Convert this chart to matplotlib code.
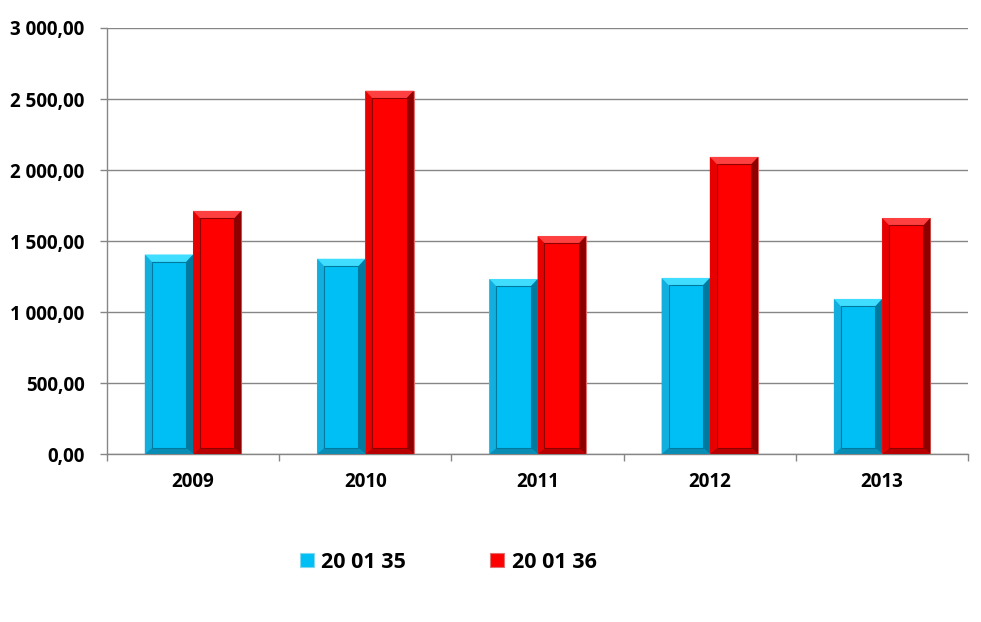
import numpy as np
import matplotlib.pyplot as plt
from matplotlib.patches import Polygon
from matplotlib.ticker import FuncFormatter

years = ['2009', '2010', '2011', '2012', '2013']
series_names = ['20 01 35', '20 01 36']
vals_35 = [1405, 1375, 1232, 1240, 1092]
vals_36 = [1712, 2558, 1535, 2092, 1662]

plt.rcParams['font.family'] = ['Open Sans', 'DejaVu Sans']
plt.rcParams['font.weight'] = 'bold'

# face, top, left, right, bottom colours for the bevel frame
blue_style = ('#00BFF5', '#3FDDFF', '#12AEDD', '#00799E', '#0A8DB5')
red_style = ('#FF0000', '#FF4040', '#E60000', '#8E0000', '#B80000')


def fmt(v, pos):
    s = f'{v:,.2f}'
    return s.replace(',', ' ').replace('.', ',')


def bevel(ax, rect, style, dx, dy):
    face, top, left, right, bottom = style
    x0 = rect.get_x()
    w = rect.get_width()
    h = rect.get_height()
    x1 = x0 + w
    y0, y1 = 0, h
    ix0, ix1 = x0 + dx, x1 - dx
    iy0, iy1 = y0 + dy * 0.8, y1 - dy
    polys = [
        ([(x0, y1), (x1, y1), (ix1, iy1), (ix0, iy1)], top),
        ([(x0, y0), (x0, y1), (ix0, iy1), (ix0, iy0)], left),
        ([(x1, y0), (x1, y1), (ix1, iy1), (ix1, iy0)], right),
        ([(x0, y0), (x1, y0), (ix1, iy0), (ix0, iy0)], bottom),
    ]
    for pts, c in polys:
        ax.add_patch(Polygon(pts, closed=True, facecolor=c, edgecolor='none', zorder=3))
    # thin dark line around the inner face
    ax.add_patch(Polygon([(ix0, iy0), (ix0, iy1), (ix1, iy1), (ix1, iy0)], closed=True,
                         facecolor=face, edgecolor=right, linewidth=0.8, zorder=4))


fig = plt.figure(figsize=(9.81, 6.22), dpi=100)
ax = fig.add_axes([0.109, 0.270, 0.878, 0.685])

x = np.arange(len(years))
bw = 0.28
b1 = ax.bar(x - bw / 2, vals_35, bw, color=blue_style[0], edgecolor='#7FD8F0',
            linewidth=0.8, zorder=2, label=series_names[0])
b2 = ax.bar(x + bw / 2, vals_36, bw, color=red_style[0], edgecolor='#E07070',
            linewidth=0.8, zorder=2, label=series_names[1])

for r in b1:
    bevel(ax, r, blue_style, 0.04, 52)
for r in b2:
    bevel(ax, r, red_style, 0.04, 52)

ax.set_xlim(-0.5, len(years) - 0.5)
ax.set_ylim(0, 3000)
ax.set_yticks(np.arange(0, 3001, 500))
ax.yaxis.set_major_formatter(FuncFormatter(fmt))
ax.set_xticks(x)
ax.set_xticklabels(years)
ax.set_xticks(np.arange(-0.5, len(years), 1), minor=True)

ax.grid(axis='y', color='#868686', linewidth=1, zorder=0)
ax.set_axisbelow(True)
for s in ['top', 'right']:
    ax.spines[s].set_visible(False)
for s in ['left', 'bottom']:
    ax.spines[s].set_color('#868686')
    ax.spines[s].set_linewidth(1)

ax.tick_params(axis='y', length=5, width=1, color='#868686', pad=11,
               labelsize=13.5, labelcolor='black')
ax.tick_params(axis='x', which='major', length=0, pad=13, labelsize=13.5)
ax.tick_params(axis='x', which='minor', length=5, width=1, color='#868686')
for lbl in ax.get_xticklabels() + ax.get_yticklabels():
    lbl.set_fontweight('bold')

leg = fig.legend(handles=[b1, b2], labels=series_names, loc='center',
                 bbox_to_anchor=(0.457, 0.096), ncol=2, frameon=False,
                 handlelength=0.65, handleheight=0.65, handletextpad=0.35,
                 columnspacing=3.9, prop={'size': 15.5, 'weight': 'bold'})

fig.savefig('out.png', dpi=100)
